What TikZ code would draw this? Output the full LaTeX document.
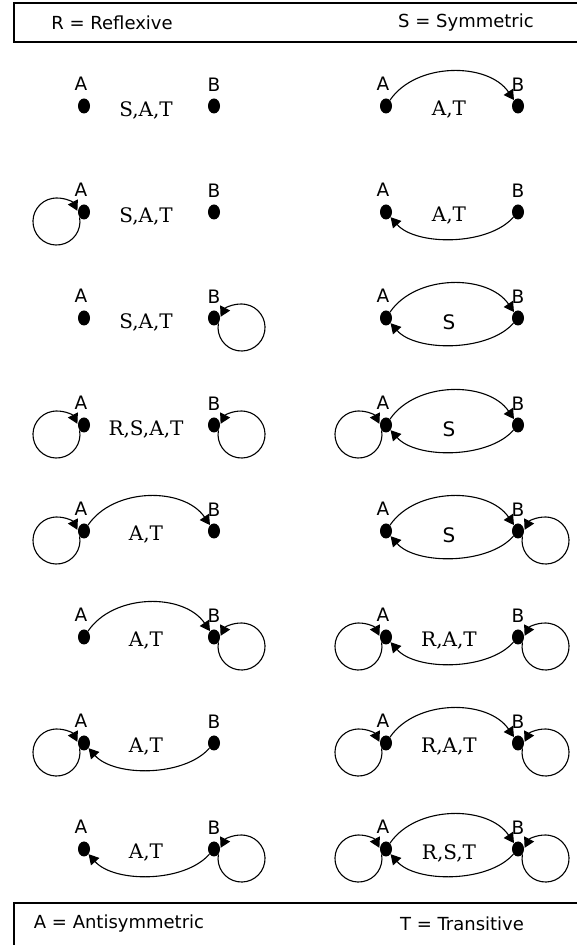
\documentclass[tikz,border=0pt]{standalone}
\usepackage{fontspec}
\setmainfont{DejaVu Serif}
\setsansfont{DejaVu Sans}
\usetikzlibrary{arrows.meta,shapes.geometric,calc}

% one pair of vertices A and B with their names and the relation's properties
\newcommand\vpair[5]{%
  \node[vtx] (#1a) at (#2,#4) {};
  \node[vtx] (#1b) at (#3,#4) {};
  \node[vname] (#1al) at ($(#1a)+(-3,22)$) {A};
  \node[vname] (#1bl) at ($(#1b)+(0,21)$) {B};
  \node[prop] (#1p) at ($(#1a)!0.5!(#1b)+(-3,-4)$) {#5};
}
% self loops, arrows of A to A and of B to B
\newcommand\selfA[1]{\draw[edge] (#1a.south west) arc[start angle=10, end angle=-333, radius=23.5pt];}
\newcommand\selfB[1]{\draw[edge] (#1b.south east) arc[start angle=170, end angle=513, radius=23.5pt];}
% upper arc A to B, lower arc B to A
\newcommand\upAB[1]{\draw[edge] (#1a) .. controls +(30,44) and +(-30,44) .. (#1b);}
\newcommand\lowBA[1]{\draw[edge] (#1b) .. controls +(-30,-34) and +(30,-34) .. (#1a);}

\begin{document}
\begin{tikzpicture}[x=1pt,y=1pt,
  vtx/.style={ellipse, fill=black, inner sep=0pt, minimum width=12pt, minimum height=15pt},
  vname/.style={font=\sffamily\fontsize{18.5}{18.5}\selectfont, inner sep=0pt},
  prop/.style={font=\fontsize{20}{20}\selectfont, inner sep=0pt},
  key/.style={font=\sffamily\fontsize{18}{18}\selectfont, inner sep=0pt},
  edge/.style={line width=1.1pt, -{Triangle[length=10pt,width=11pt]}},
  frame/.style={draw, line width=1.3pt}]
\useasboundingbox (0,0) rectangle (576,945);

% legend boxes
\draw[frame] (14,942) rectangle (582,903);
\node[key] (kr) at (112,922) {R = Reflexive};
\node[key] (ks) at (466,922) {S = Symmetric};
\draw[frame] (14,-5) rectangle (582,42);
\node[key] (ka) at (119,21) {A = Antisymmetric};
\node[key] (kt) at (462,21) {T = Transitive};

% left column
\vpair{l1}{84}{214}{839}{S,A,T}
\vpair{l2}{84}{214}{733}{S,A,T}
\selfA{l2}
\vpair{l3}{84}{214}{627}{S,A,T}
\selfB{l3}
\vpair{l4}{84}{214}{520}{R,S,A,T}
\selfA{l4} \selfB{l4}
\vpair{l5}{84}{214}{414}{A,T}
\selfA{l5} \upAB{l5}
\vpair{l6}{84}{214}{308}{A,T}
\upAB{l6} \selfB{l6}
\vpair{l7}{84}{214}{202}{A,T}
\selfA{l7} \lowBA{l7}
\vpair{l8}{84}{214}{96}{A,T}
\lowBA{l8} \selfB{l8}

% right column
\vpair{r1}{386}{518}{839}{A,T}
\upAB{r1}
\vpair{r2}{386}{518}{733}{A,T}
\lowBA{r2}
\vpair{r3}{386}{518}{627}{\sffamily S}
\upAB{r3} \lowBA{r3}
\vpair{r4}{386}{518}{520}{\sffamily S}
\selfA{r4} \upAB{r4} \lowBA{r4}
\vpair{r5}{386}{518}{414}{\sffamily S}
\upAB{r5} \lowBA{r5} \selfB{r5}
\vpair{r6}{386}{518}{308}{R,A,T}
\selfA{r6} \lowBA{r6} \selfB{r6}
\vpair{r7}{386}{518}{202}{R,A,T}
\selfA{r7} \upAB{r7} \selfB{r7}
\vpair{r8}{386}{518}{96}{R,S,T}
\selfA{r8} \upAB{r8} \lowBA{r8} \selfB{r8}
\end{tikzpicture}
\end{document}
